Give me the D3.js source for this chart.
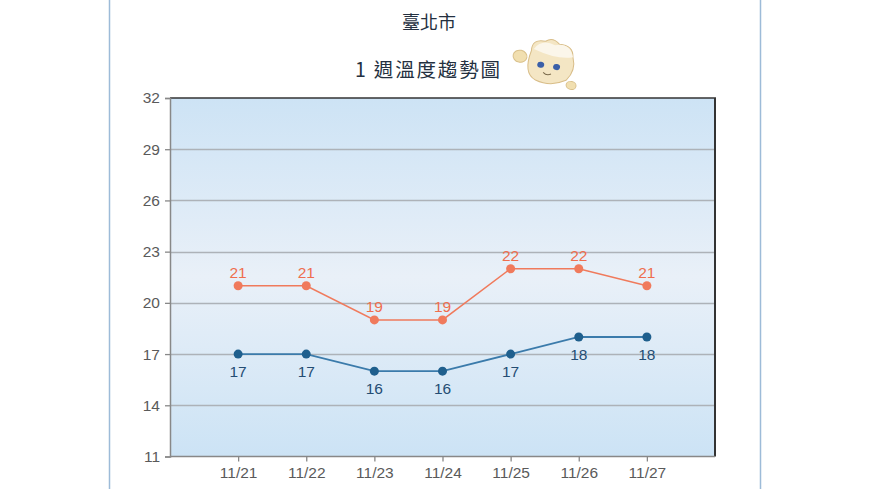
<!DOCTYPE html>
<html><head><meta charset="utf-8">
<script src="https://cdn.jsdelivr.net/npm/d3@7"></script>
<style>body{margin:0;background:#fff;}svg{display:block;}</style>
</head><body>
<script>
const dates = ["11/21","11/22","11/23","11/24","11/25","11/26","11/27"];
const highs = [21,21,19,19,22,22,21];
const lows = [17,17,16,16,17,18,18];
const yTicks = [11,14,17,20,23,26,29,32];
const title1 = "臺北市";
const title2 = "1 週溫度趨勢圖";

const W=870,H=489;
const svg=d3.select("body").append("svg").attr("width",W).attr("height",H);
const defs=svg.append("defs");
const g1=defs.append("linearGradient").attr("id","bg").attr("x1",0).attr("y1",0).attr("x2",0).attr("y2",1);
g1.append("stop").attr("offset","0%").attr("stop-color","#cde3f5");
g1.append("stop").attr("offset","50%").attr("stop-color","#e9f0f8");
g1.append("stop").attr("offset","100%").attr("stop-color","#cce3f5");

// container borders
svg.append("line").attr("x1",109.5).attr("x2",109.5).attr("y1",0).attr("y2",H).attr("stroke","#9dbbd8").attr("stroke-width",1.5);
svg.append("line").attr("x1",760.5).attr("x2",760.5).attr("y1",0).attr("y2",H).attr("stroke","#9dbbd8").attr("stroke-width",1.5);

const L=170,R=715,T=98,B=456.5;
const x=d3.scalePoint().domain(dates).range([L,R]).padding(1);
const y=d3.scaleLinear().domain([11,32]).range([B,T]);
const numFont="Liberation Sans, Arial, sans-serif";

svg.append("rect").attr("x",L).attr("y",T).attr("width",R-L).attr("height",B-T).attr("fill","url(#bg)");

// grid
svg.append("g").selectAll("line").data(yTicks.slice(1,-1)).join("line")
 .attr("x1",L).attr("x2",R).attr("y1",d=>Math.round(y(d))+0.5).attr("y2",d=>Math.round(y(d))+0.5)
 .attr("stroke","#adb2b8").attr("stroke-width",1.4);

// frame: top & right dark
svg.append("line").attr("x1",L).attr("x2",R+1).attr("y1",T).attr("y2",T).attr("stroke","#333").attr("stroke-width",1.5);
svg.append("line").attr("x1",R).attr("x2",R).attr("y1",T).attr("y2",B).attr("stroke","#333").attr("stroke-width",2);

// axes
const yAx=d3.axisLeft(y).tickValues(yTicks).tickSize(5).tickPadding(5);
const gy=svg.append("g").attr("transform",`translate(${L},0)`).call(yAx);
const xAx=d3.axisBottom(x).tickSize(5).tickPadding(5);
const gx=svg.append("g").attr("transform",`translate(0,${B})`).call(xAx);
[gy,gx].forEach(g=>{
 g.select(".domain").attr("stroke","#888").attr("stroke-width",1.5);
 g.selectAll(".tick line").attr("stroke","#888").attr("stroke-width",1.3);
 g.selectAll(".tick text").attr("fill","#5a5a5a").attr("font-family",numFont).attr("font-size",15.5);
});
gx.select(".domain").attr("d",`M${L},0H${R}`);

// lines
const hiC="#f07a5c";
const line=d3.line().x((d,i)=>x(dates[i])).y(d=>y(d));
svg.append("path").datum(highs).attr("d",line).attr("fill","none").attr("stroke",hiC).attr("stroke-width",1.5);
svg.append("path").datum(lows).attr("d",line).attr("fill","none").attr("stroke","#3b7bab").attr("stroke-width",1.8);
svg.append("g").selectAll("circle").data(highs).join("circle").attr("cx",(d,i)=>x(dates[i])).attr("cy",d=>y(d)).attr("r",4.5).attr("fill",hiC);
svg.append("g").selectAll("circle").data(lows).join("circle").attr("cx",(d,i)=>x(dates[i])).attr("cy",d=>y(d)).attr("r",4.5).attr("fill","#1f5f8d");
svg.append("g").selectAll("text").data(highs).join("text").attr("x",(d,i)=>x(dates[i])).attr("y",d=>y(d)-8)
 .attr("text-anchor","middle").attr("fill","#ef6e4e").attr("font-family",numFont).attr("font-size",15.5).text(d=>d);
svg.append("g").selectAll("text").data(lows).join("text").attr("x",(d,i)=>x(dates[i])).attr("y",d=>y(d)+23)
 .attr("text-anchor","middle").attr("fill","#244d73").attr("font-family",numFont).attr("font-size",15.5).text(d=>d);

// titles
svg.append("text").attr("x",429).attr("y",29).attr("text-anchor","middle").attr("font-family","Noto Sans CJK TC, sans-serif").attr("font-size",18).attr("fill","#243040").text(title1);
svg.append("text").attr("x",355).attr("y",77).attr("textLength",145).attr("lengthAdjust","spacing").attr("font-family","Noto Sans CJK TC, sans-serif").attr("font-size",19.5).attr("fill","#243040").text(title2);

// mascot (simple drawing)
const m=svg.append("g").attr("transform","translate(547,64) rotate(12)");
m.append("ellipse").attr("cx",-28).attr("cy",-2).attr("rx",7).attr("ry",6).attr("fill","#f1dfb0").attr("stroke","#d9c08a");
m.append("ellipse").attr("cx",28).attr("cy",16).attr("rx",5).attr("ry",4).attr("fill","#f1dfb0").attr("stroke","#d9c08a");
m.append("path").attr("d","M-18,-10 Q-20,-22 -6,-22 Q0,-28 8,-22 Q22,-24 24,-12 Q30,0 22,12 Q8,22 -8,18 Q-22,14 -18,-10Z").attr("fill","#f4e6c4").attr("stroke","#d8bd88");
m.append("path").attr("d","M-16,-12 Q-10,-24 4,-20 Q18,-26 24,-12 Q10,-6 -16,-12Z").attr("fill","#fbf6ea");
m.append("ellipse").attr("cx",-6).attr("cy",2).attr("rx",3.5).attr("ry",3).attr("fill","#3a5fa8");
m.append("ellipse").attr("cx",10).attr("cy",1).attr("rx",3.5).attr("ry",3).attr("fill","#3a5fa8");
m.append("path").attr("d","M-2,9 Q2,12 6,9").attr("fill","none").attr("stroke","#7a6a4a");
</script>
</body></html>
